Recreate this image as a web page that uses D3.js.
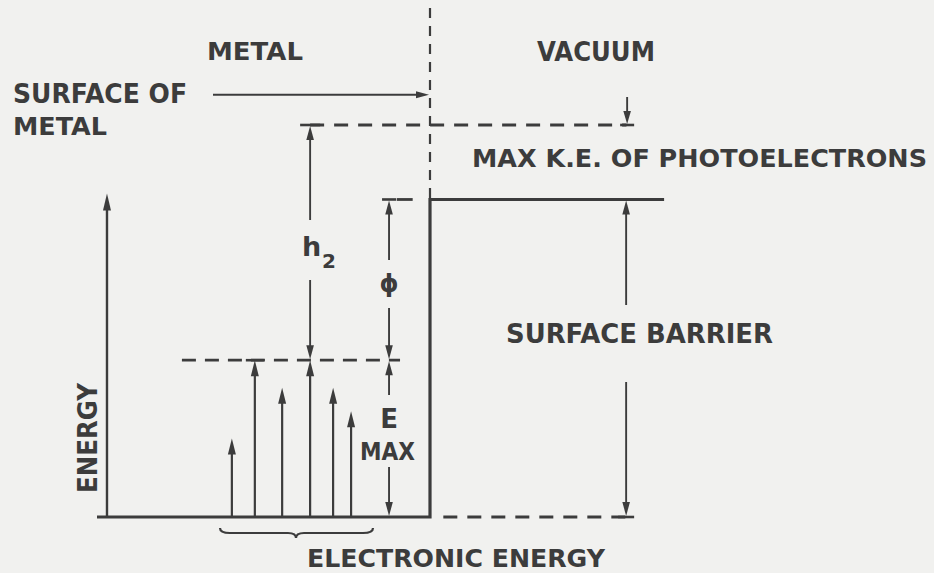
<!DOCTYPE html>
<html><head><meta charset="utf-8">
<script src="https://cdn.jsdelivr.net/npm/d3@7"></script>
<style>
html,body{margin:0;padding:0;background:#f1f1ef;}
svg{display:block;}
text{font-family:"DejaVu Sans","Liberation Sans",sans-serif;font-weight:bold;fill:#3c3c3c;}
</style></head>
<body>
<script>
// ---- data (energies in arbitrary units, positions in diagram units: 0 = left of well, 1 = metal surface) ----
const regionLabels = ["METAL", "VACUUM"];
const levelNames = ["bottom", "Emax", "barrier", "maxKE", "surfaceRef"];
const levelEnergies = [0, 4.0, 8.1, 10.0, 10.77];
const electronPositions = [0.405, 0.474, 0.556, 0.640, 0.709, 0.763];
const electronEnergies = [2.0, 4.0, 3.3, 4.0, 3.3, 2.7];
const labels = ["SURFACE OF", "METAL", "MAX K.E. OF PHOTOELECTRONS", "SURFACE BARRIER", "ENERGY", "ELECTRONIC ENERGY"];

const W = 934, H = 573, ink = "#3c3c3c";
const svg = d3.select("body").append("svg").attr("width", W).attr("height", H);
svg.append("rect").attr("width", W).attr("height", H).attr("fill", "#f1f1ef");

const x = d3.scaleLinear().domain([0, 1]).range([97, 430]);
const y = d3.scaleLinear().domain([0, 10]).range([517, 125]);
const lvl = n => levelEnergies[levelNames.indexOf(n)];

const g = svg.append("g");
function line(x1, y1, x2, y2, w, dash) {
  const l = g.append("line").attr("x1", x1).attr("y1", y1).attr("x2", x2).attr("y2", y2)
    .attr("stroke", ink).attr("stroke-width", w).attr("stroke-linecap", "butt");
  if (dash) l.attr("stroke-dasharray", dash);
  return l;
}
function head(px, py, dir, len = 14, hw = 3.5) {
  let pts;
  if (dir === "up") pts = [[px, py], [px - hw, py + len], [px + hw, py + len]];
  else if (dir === "down") pts = [[px, py], [px - hw, py - len], [px + hw, py - len]];
  else pts = [[px, py], [px - len, py - hw], [px - len, py + hw]];
  g.append("path").attr("d", d3.line()(pts) + "Z").attr("fill", ink);
}
function bar(px, py, hw = 9) { line(px - hw, py, px + hw, py, 2.6); }
function txt(s, x0, yb, len, size = 22, anchor = "start") {
  const t = g.append("text").attr("x", x0).attr("y", yb).attr("font-size", size).attr("text-anchor", anchor).text(s);
  if (len) t.attr("textLength", len).attr("lengthAdjust", "spacingAndGlyphs");
  return t;
}

// ---- surface of metal (vertical dashed line) ----
line(x(1), 8, x(1), y(lvl("barrier")), 2.2, "10,8");

// ---- well: bottom line & barrier ----
g.append("path")
  .attr("d", d3.line()([[x(0), y(0)], [x(1), y(0)], [x(1), y(lvl("barrier"))], [x(1.703), y(lvl("barrier"))]]))
  .attr("fill", "none").attr("stroke", ink).attr("stroke-width", 3.2);

// energy axis arrow
line(x(0.03), y(0), x(0.03), y(8.25) + 10, 2.4);
head(x(0.03), y(8.25), "up", 17, 4);

// ---- dashed levels ----
line(x(0.255), y(lvl("Emax")), x(0.91), y(lvl("Emax")), 2.8, "14,9");
line(x(0.64), y(lvl("maxKE")), x(1.59), y(lvl("maxKE")), 2.8, "14,10");
line(x(1.04), y(0), x(1.6), y(0), 2.8, "14,10");
line(x(0.9), y(lvl("barrier")), x(0.948), y(lvl("barrier")), 2.8);

// ---- electron excitation arrows ----
electronPositions.forEach((p, i) => {
  const xe = x(p), ye = y(electronEnergies[i]);
  line(xe, y(0), xe, ye + 10, 2.2);
  head(xe, ye, "up", 16, 4);
});
bar(x(electronPositions[1]), y(lvl("Emax")), 9);

// ---- h2 arrow ----
const xh = x(0.64);
bar(xh, y(lvl("maxKE")), 10);
head(xh, y(lvl("maxKE")) + 1, "up", 14, 3.8);
line(xh, y(lvl("maxKE")) + 10, xh, 220, 1.9);
line(xh, 280, xh, y(lvl("Emax")) - 8, 1.9);
head(xh, y(lvl("Emax")) - 1, "down", 14, 3.8);
txt("h", 302, 256, null, 27).attr("font-weight", "normal");
txt("2", 322, 268, null, 20);

// ---- phi arrow ----
const xp = x(0.877);
bar(xp, y(lvl("barrier")), 7);
head(xp, y(lvl("barrier")) + 1, "up", 14, 3.8);
line(xp, y(lvl("barrier")) + 10, xp, 260, 1.9);
txt("\u03D5", xp, 292, null, 24, "middle");
line(xp, 308, xp, y(lvl("Emax")) - 8, 1.9);
head(xp, y(lvl("Emax")) - 1, "down", 14, 3.8);

// ---- E max arrow ----
head(xp, y(lvl("Emax")) + 1, "up", 14, 3.8);
line(xp, y(lvl("Emax")) + 10, xp, 395, 1.9);
txt("E", xp, 428, null, 26, "middle");
txt("MAX", 360, 460, 55, 25);
line(xp, 467, xp, y(0) - 8, 1.9);
head(xp, y(0) - 1, "down", 14, 3.8);

// ---- surface barrier arrow ----
const xb = x(1.589);
head(xb, y(lvl("barrier")) + 1, "up", 14, 3.8);
line(xb, y(lvl("barrier")) + 10, xb, 305, 1.9);
line(xb, 382, xb, y(0) - 8, 1.9);
head(xb, y(0) - 1, "down", 14, 3.8);
bar(xb, y(0), 8);

// ---- max KE arrow (from above) ----
const xk = x(1.592);
line(xk, 97, xk, y(lvl("maxKE")) - 8, 1.9);
head(xk, y(lvl("maxKE")) - 1, "down", 13, 3.8);
bar(xk, y(lvl("maxKE")), 7);

// ---- surface-of-metal pointer ----
const ys = y(lvl("surfaceRef"));
line(213, ys, x(1) - 8, ys, 1.9);
head(x(1) - 1, ys, "right", 13, 3.5);

// ---- brace ----
const bx0 = 220, bx1 = 373, bm = 296, by = 528;
g.append("path")
  .attr("d", `M${bx0},${by} Q${bx0},${by + 5} ${bx0 + 10},${by + 5} L${bm - 8},${by + 5} Q${bm},${by + 5} ${bm},${by + 10} Q${bm},${by + 5} ${bm + 8},${by + 5} L${bx1 - 10},${by + 5} Q${bx1},${by + 5} ${bx1},${by}`)
  .attr("fill", "none").attr("stroke", ink).attr("stroke-width", 2.2);

// ---- labels ----
txt(regionLabels[0], 207, 60, 96, 25);
txt(regionLabels[1], 537, 61, 118, 26);
txt(labels[0], 13, 103, 174, 26);
txt(labels[1], 13, 135, 94, 25);
txt(labels[2], 472, 167, 455, 24);
txt(labels[3], 506, 343, 267, 26);
txt(labels[4], 0, 0, 110, 26).attr("transform", "translate(97,493) rotate(-90)");
txt(labels[5], 307, 567, 298, 24);
</script>
</body></html>
